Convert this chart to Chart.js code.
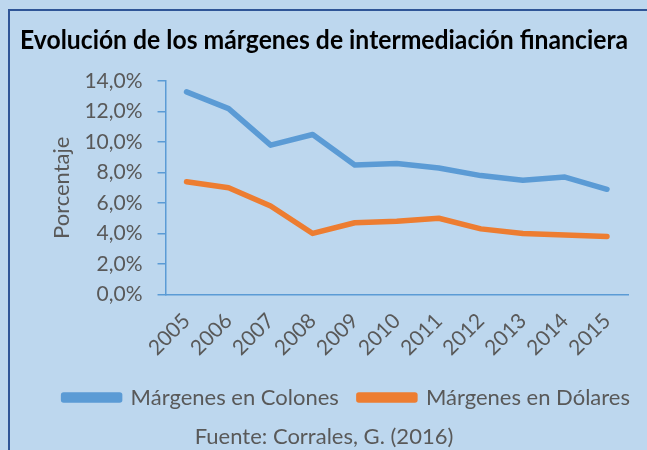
<!DOCTYPE html>
<html>
<head>
<meta charset="utf-8">
<script src="https://cdn.jsdelivr.net/npm/chart.js@4"></script>
<style>
  html, body { margin: 0; padding: 0; background: #BDD7EE; }
  #marco {
    position: absolute; left: 8px; top: 9px; width: 700px; height: 500px;
    border-left: 2px solid #2F5597; border-top: 2px solid #2F5597;
  }
  #caja { position: absolute; left: 0; top: 0; width: 647px; height: 450px; }
</style>
</head>
<body>
<div id="marco"></div>
<div id="caja"><canvas id="grafico" width="647" height="450"></canvas></div>
<script>
var anios = ["2005", "2006", "2007", "2008", "2009", "2010", "2011", "2012", "2013", "2014", "2015"];
var colones = [13.3, 12.2, 9.8, 10.5, 8.5, 8.6, 8.3, 7.8, 7.5, 7.7, 6.9];
var dolares = [7.4, 7.0, 5.8, 4.0, 4.7, 4.8, 5.0, 4.3, 4.0, 3.9, 3.8];
var ticksY = [0, 2, 4, 6, 8, 10, 12, 14];

var azul = '#5B9BD5';
var naranja = '#ED7D31';
var gris = '#595959';
var fuente = "Lato, 'Open Sans', sans-serif";

var ctx = document.getElementById("grafico");

// corre la leyenda un poco a la derecha, como en el original
var moverLeyenda = {
    id: 'moverLeyenda',
    afterLayout: function (chart) {
        chart.legend.left += 22;
        chart.legend.right += 22;
    }
};

var chartGraph = new Chart(ctx, {
    type: 'line',
    data: {
        labels: anios,
        datasets: [{
            label: "Márgenes en Colones",
            data: colones,
            borderColor: azul,
            backgroundColor: azul,
            borderWidth: 5.5,
            pointRadius: 0,
            borderCapStyle: 'round',
            borderJoinStyle: 'round',
        }, {
            label: "Márgenes en Dólares",
            data: dolares,
            borderColor: naranja,
            backgroundColor: naranja,
            borderWidth: 5.5,
            pointRadius: 0,
            borderCapStyle: 'round',
            borderJoinStyle: 'round',
        }]
    },
    plugins: [moverLeyenda],
    options: {
        responsive: false,
        animation: false,
        layout: {
            padding: { left: 20, right: 19, top: 25, bottom: 0 }
        },
        plugins: {
            title: {
                display: true,
                text: 'Evolución de los márgenes de intermediación financiera',
                color: '#000000',
                font: { family: fuente, size: 26, weight: 'bold' },
                padding: { top: 0, bottom: 25 }
            },
            subtitle: {
                display: true,
                position: 'bottom',
                text: 'Fuente: Corrales, G. (2016)',
                color: gris,
                font: { family: fuente, size: 22 },
                padding: { top: 5, bottom: 0 }
            },
            legend: {
                position: 'bottom',
                align: 'end',
                labels: {
                    color: gris,
                    font: { family: fuente, size: 22 },
                    boxWidth: 56,
                    boxHeight: 5,
                    padding: 20
                }
            },
            tooltip: { enabled: false }
        },
        scales: {
            x: {
                offset: true,
                grid: { display: false },
                border: { color: azul, width: 1.5 },
                ticks: {
                    color: gris,
                    font: { family: fuente, size: 21 },
                    minRotation: 45,
                    maxRotation: 45,
                    padding: 6
                }
            },
            y: {
                min: 0,
                max: 14,
                afterBuildTicks: function (scale) {
                    scale.ticks = ticksY.map(function (v) { return { value: v }; });
                },
                grid: {
                    drawOnChartArea: false,
                    tickLength: 8,
                    tickColor: azul,
                    lineWidth: 1.5
                },
                border: { color: azul, width: 1.5 },
                ticks: {
                    autoSkip: false,
                    color: gris,
                    font: { family: fuente, size: 21 },
                    padding: 15,
                    callback: function (v) { return v.toFixed(1).replace('.', ',') + '%'; }
                },
                title: {
                    display: true,
                    text: 'Porcentaje',
                    color: gris,
                    font: { family: fuente, size: 22 },
                    padding: { top: 29, bottom: -6 }
                }
            }
        }
    }
});
</script>
</body>
</html>
